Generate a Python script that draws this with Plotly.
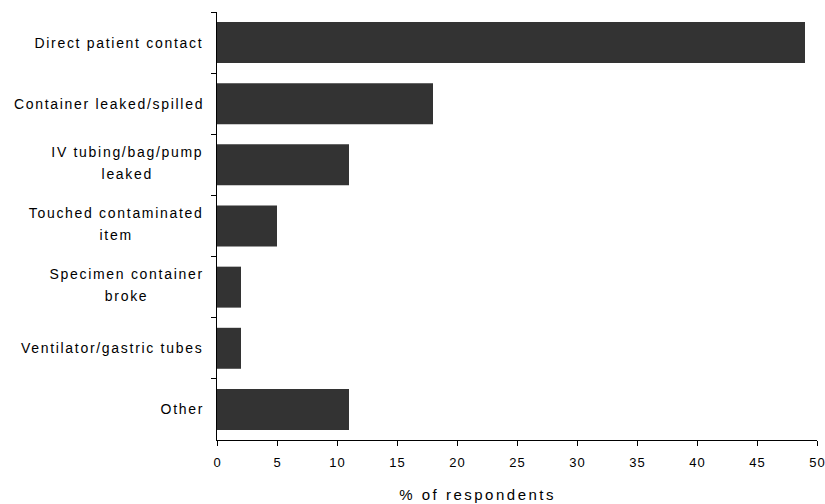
import json
import plotly.graph_objects as go

categories = [
    "Direct patient contact",
    "Container leaked/spilled",
    "IV tubing/bag/pump<br>leaked",
    "Touched contaminated<br>item",
    "Specimen container<br>broke",
    "Ventilator/gastric tubes",
    "Other",
]
values = [49, 18, 11, 5, 2, 2, 11]
x_ticks = [0, 5, 10, 15, 20, 25, 30, 35, 40, 45, 50]
x_title = "% of respondents"

FONT = "Liberation Sans, Arial, sans-serif"

fig = go.Figure(
    go.Bar(
        x=values,
        y=categories,
        orientation="h",
        marker=dict(color="#333333", line=dict(width=0)),
        hoverinfo="x+y",
    )
)

annotations = [
    dict(
        x=0, xref="paper", y=c, yref="y",
        text=c, showarrow=False, xanchor="right", yanchor="middle",
        align="center", xshift=-13, yshift=(2 if "<br>" in c else 0),
        font=dict(family=FONT, size=14, color="#000000"),
    )
    for c in categories
]
# axis title (placed left of the plot centre, as in the reference)
annotations.append(
    dict(
        x=0.432, xref="paper", y=0, yref="paper",
        text=x_title, showarrow=False, xanchor="center", yanchor="middle",
        yshift=-54,
        font=dict(family=FONT, size=15, color="#000000"),
    )
)

fig.update_layout(
    template="none",
    width=825,
    height=504,
    margin=dict(l=217, r=8, t=12, b=64, autoexpand=False),
    paper_bgcolor="white",
    plot_bgcolor="white",
    bargap=0.33,
    showlegend=False,
    font=dict(family=FONT, size=14, color="#000000"),
    annotations=annotations,
    xaxis=dict(
        range=[0, 50],
        tickvals=x_ticks,
        ticktext=[str(t) for t in x_ticks],
        ticks="outside",
        ticklen=5,
        tickwidth=1,
        tickcolor="#000000",
        ticklabelstandoff=5,
        showline=True,
        linecolor="#000000",
        linewidth=1,
        showgrid=False,
        zeroline=False,
        automargin=False,
        tickfont=dict(family=FONT, size=13, color="#000000"),
    ),
    yaxis=dict(
        autorange="reversed",
        showticklabels=False,
        ticks="outside",
        tickson="boundaries",
        ticklen=5,
        tickwidth=1,
        tickcolor="#000000",
        showline=True,
        linecolor="#000000",
        linewidth=1,
        showgrid=False,
        zeroline=False,
        automargin=False,
    ),
)

post_js = r"""
(function(){
  document.body.style.margin = '0';
  document.documentElement.style.overflow = 'hidden';
  document.body.style.overflow = 'hidden';
  var TITLE = __TITLE__;
  var gd = document.querySelector('.plotly-graph-div');
  if (!gd) return;
  function shiftX(t, dx){
    var nodes = [t].concat(Array.prototype.slice.call(t.querySelectorAll('tspan')));
    nodes.forEach(function(n){
      var x = n.getAttribute('x');
      if (x !== null && x !== '') n.setAttribute('x', parseFloat(x) + dx);
    });
  }
  function spaceCentered(t, ls){
    var b0 = t.getBBox(); var c0 = b0.x + b0.width / 2;
    t.style.letterSpacing = ls + 'px';
    var b1 = t.getBBox(); var c1 = b1.x + b1.width / 2;
    shiftX(t, c0 - c1 + ls / 2);
  }
  function spaceRight(t, ls, extra){
    var lines = t.querySelectorAll('tspan.line');
    var n = lines.length;
    if (n > 1){
      var base = parseFloat(t.getAttribute('y')) || 0;
      for (var i = 0; i < n; i++){
        lines[i].setAttribute('y', base + i * extra - (n - 1) * extra / 2);
      }
    }
    var b0 = t.getBBox(); var r0 = b0.x + b0.width;
    t.style.letterSpacing = ls + 'px';
    var b1 = t.getBBox(); var r1 = b1.x + b1.width;
    shiftX(t, r0 - r1 + ls);
  }
  function once(t){
    if (t.getAttribute('data-ls')) return false;
    t.setAttribute('data-ls', '1');
    return true;
  }
  function fix(){
    gd.querySelectorAll('.annotation-text').forEach(function(t){
      if (!once(t)) return;
      if (t.textContent === TITLE) spaceCentered(t, 2.5);
      else spaceRight(t, 1.7, 4);
    });
    gd.querySelectorAll('.xtick text').forEach(function(t){
      if (!once(t)) return;
      spaceCentered(t, 1.0);
    });
  }
  fix();
  if (gd.on) gd.on('plotly_afterplot', fix);
})();
""".replace("__TITLE__", json.dumps(x_title))

fig.write_html("out.html", post_script=post_js, config={"displayModeBar": False})
